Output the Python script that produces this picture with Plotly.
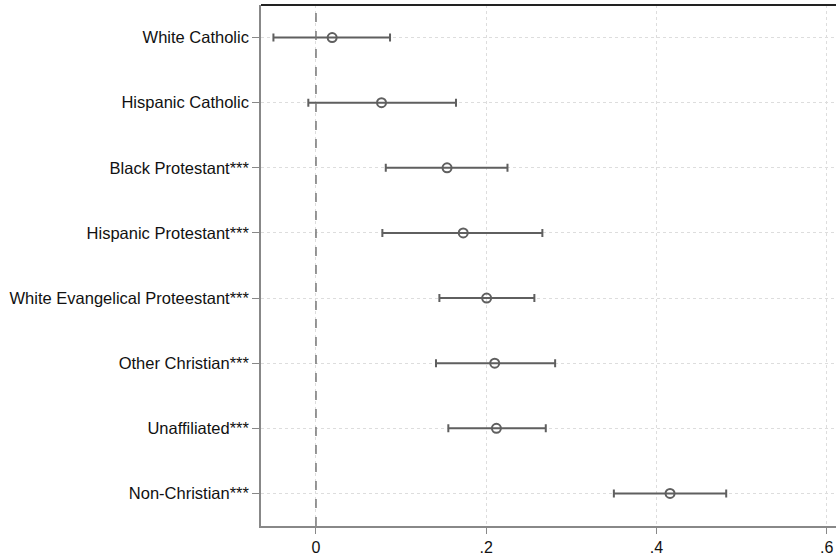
import plotly.graph_objects as go

categories = ["White Catholic", "Hispanic Catholic", "Black Protestant***",
              "Hispanic Protestant***", "White Evangelical Proteestant***",
              "Other Christian***", "Unaffiliated***", "Non-Christian***"]
estimates = [0.019, 0.077, 0.154, 0.173, 0.2005, 0.210, 0.212, 0.416]
ci_low = [-0.050, -0.009, 0.082, 0.078, 0.145, 0.141, 0.1555, 0.350]
ci_high = [0.087, 0.1645, 0.225, 0.266, 0.2566, 0.281, 0.270, 0.482]
x_tickvals = [0, 0.2, 0.4, 0.6]
x_ticktext = ["0", ".2", ".4", ".6"]

plus = [h - e for h, e in zip(ci_high, estimates)]
minus = [e - l for e, l in zip(estimates, ci_low)]

fig = go.Figure()
fig.add_trace(go.Scatter(
    x=estimates, y=categories, mode="markers",
    marker=dict(symbol="circle-open", size=9, color="#5f5f5f", line=dict(width=2, color="#5f5f5f")),
    error_x=dict(type="data", array=plus, arrayminus=minus, color="#5f5f5f", thickness=2, width=4),
    showlegend=False,
))
fig.add_vline(x=0, line=dict(color="#777777", width=1.5, dash="dash"))
fig.add_shape(type="line", xref="paper", yref="paper", x0=0, x1=1, y0=1, y1=1,
              line=dict(color="#222222", width=2))

font = "Liberation Sans, Arial, Helvetica, sans-serif"
fig.update_layout(
    width=836, height=557,
    margin=dict(l=261, r=0, t=5, b=31, autoexpand=False),
    paper_bgcolor="white", plot_bgcolor="white",
    font=dict(family=font, size=16, color="#111111"),
    xaxis=dict(range=[-0.0646, 0.611], tickvals=x_tickvals, ticktext=x_ticktext,
               showline=True, linecolor="#888888", linewidth=1.5,
               ticks="outside", ticklen=6, tickcolor="#888888",
               showgrid=True, gridcolor="#dddddd", griddash="dot", gridwidth=1,
               zeroline=False, tickfont=dict(size=16), automargin=False),
    yaxis=dict(type="category", range=[7.5, -0.5],
               showline=True, linecolor="#888888", linewidth=1.5,
               ticks="outside", ticklen=7, tickcolor="#888888",
               showgrid=True, gridcolor="#dddddd", griddash="dot", gridwidth=1,
               zeroline=False, tickfont=dict(size=16.5), automargin=False),
)
fig.write_html("out.html", config={"displayModeBar": False},
               post_script="document.body.style.margin='0';")
